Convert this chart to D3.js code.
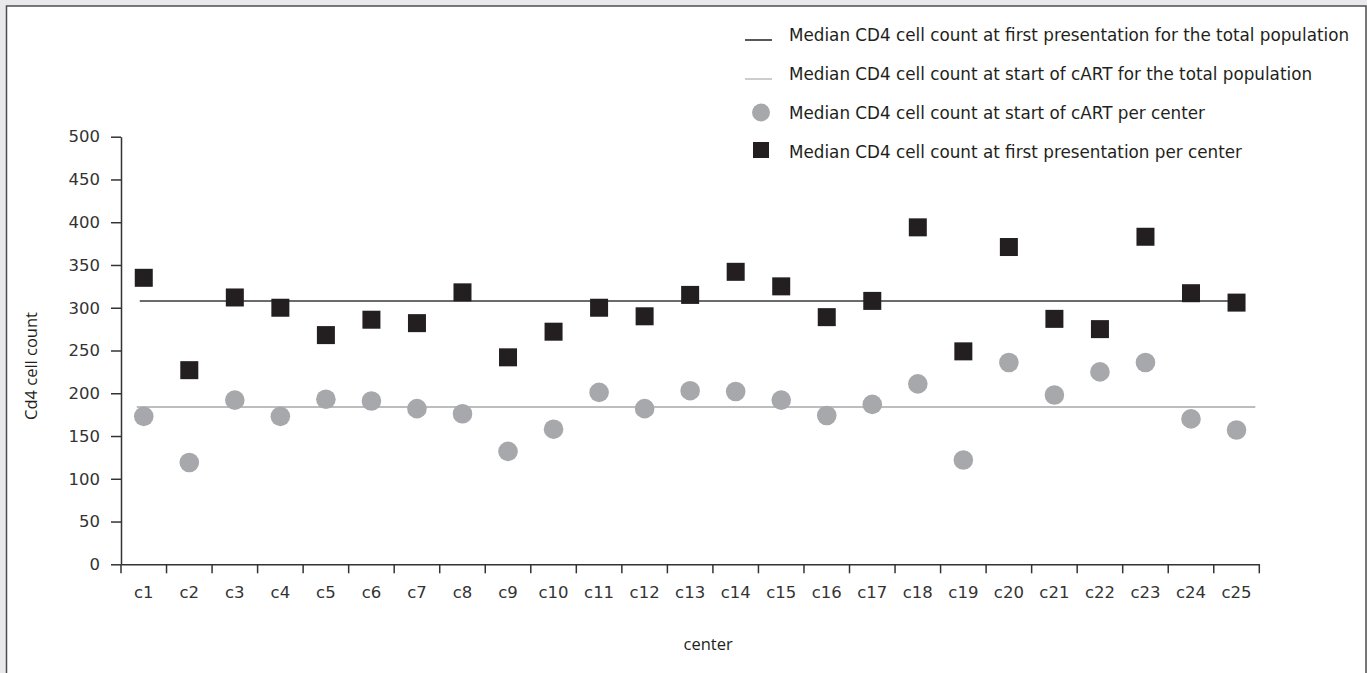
<!DOCTYPE html>
<html>
<head>
<meta charset="utf-8">
<script src="https://cdn.jsdelivr.net/npm/d3@7"></script>
<style>
  html, body { margin: 0; padding: 0; background: #e9e9eb; }
  svg { display: block; }
</style>
</head>
<body>
<svg id="chart" width="1367" height="673"></svg>
<script>
const categories = ["c1","c2","c3","c4","c5","c6","c7","c8","c9","c10","c11","c12","c13","c14","c15","c16","c17","c18","c19","c20","c21","c22","c23","c24","c25"];
const firstPresentation = [335, 227, 312, 300, 268, 286, 282, 318, 242, 272, 300, 290, 315, 342, 325, 289, 308, 394, 249, 371, 287, 275, 383, 317, 306];
const cartStart = [173, 119, 192, 173, 193, 191, 182, 176, 132, 158, 201, 182, 203, 202, 192, 174, 187, 211, 122, 236, 198, 225, 236, 170, 157];
const totalFirstPresentation = 308;
const totalCartStart = 184;
const yTicks = [0, 50, 100, 150, 200, 250, 300, 350, 400, 450, 500];
const legendLabels = [
  "Median CD4 cell count at first presentation for the total population",
  "Median CD4 cell count at start of cART for the total population",
  "Median CD4 cell count at start of cART per center",
  "Median CD4 cell count at first presentation per center"
];

const svg = d3.select("#chart");
const DARK = "#231f20", AXIS = "#333333", GREY_DOT = "#a7a8ab", GREY_LINE = "#bcbdbf";
const tickFont = "'DejaVu Sans', sans-serif";
const titleFont = "'Open Sans', sans-serif";

// frame
svg.append("rect").attr("x", 0).attr("y", 0).attr("width", 1367).attr("height", 673).attr("fill", "#e9e9eb");
svg.append("rect").attr("x", 6.5).attr("y", 6).attr("width", 1359.5).attr("height", 700)
  .attr("fill", "#ffffff").attr("stroke", "#4d4d4f").attr("stroke-width", 1.5);

const x = d3.scaleBand().domain(categories).range([121, 1259.3]).padding(0);
const y = d3.scaleLinear().domain([0, 500]).range([564.3, 136.7]);
const cx = c => x(c) + x.bandwidth() / 2;

// y axis
const yAxis = svg.append("g").attr("transform", "translate(121,0)")
  .call(d3.axisLeft(y).tickValues(yTicks).tickSize(10).tickSizeOuter(0).tickPadding(11));
yAxis.select(".domain").attr("stroke", AXIS).attr("stroke-width", 1.5);
yAxis.selectAll(".tick line").attr("stroke", AXIS).attr("stroke-width", 1.5);
yAxis.selectAll(".tick text").attr("font-family", tickFont).attr("font-size", 16.5).attr("fill", AXIS);

// x axis (labels centered in bands, ticks at band boundaries)
const xAxis = svg.append("g").attr("transform", `translate(0,${y(0)})`)
  .call(d3.axisBottom(x).tickSize(0).tickSizeOuter(0).tickPadding(22));
xAxis.select(".domain").attr("stroke", AXIS).attr("stroke-width", 1.5);
xAxis.selectAll(".tick text").attr("font-family", tickFont).attr("font-size", 16.5).attr("fill", AXIS);
const boundaries = categories.map(c => x(c)).concat([x.range()[1]]);
xAxis.selectAll(".bnd").data(boundaries).join("line").attr("class", "bnd")
  .attr("x1", d => d).attr("x2", d => d).attr("y1", 0).attr("y2", 9)
  .attr("stroke", AXIS).attr("stroke-width", 1.5);

// axis titles
svg.append("text").attr("transform", `translate(37,${366}) rotate(-90)`)
  .attr("text-anchor", "middle").attr("font-family", titleFont).attr("font-size", 16.5)
  .attr("fill", DARK).text("Cd4 cell count");
svg.append("text").attr("x", (x.range()[0] + x.range()[1]) / 2 + 18).attr("y", 650)
  .attr("text-anchor", "middle").attr("font-family", titleFont).attr("font-size", 16.5)
  .attr("fill", DARK).text("center");

// total reference lines
svg.append("line")
  .attr("x1", cx(categories[0]) - 7).attr("x2", x.range()[1] - 4)
  .attr("y1", y(totalCartStart)).attr("y2", y(totalCartStart))
  .attr("stroke", GREY_LINE).attr("stroke-width", 2);
svg.append("line")
  .attr("x1", cx(categories[0]) - 4).attr("x2", cx(categories[categories.length - 1]) + 4)
  .attr("y1", y(totalFirstPresentation)).attr("y2", y(totalFirstPresentation))
  .attr("stroke", "#3a3a3c").attr("stroke-width", 1.5);

// per-center points
svg.append("g").selectAll("circle").data(cartStart).join("circle")
  .attr("cx", (d, i) => cx(categories[i])).attr("cy", d => y(d)).attr("r", 9.8)
  .attr("fill", GREY_DOT);
const sq = 18;
svg.append("g").selectAll("rect").data(firstPresentation).join("rect")
  .attr("x", (d, i) => cx(categories[i]) - sq / 2).attr("y", d => y(d) - sq / 2)
  .attr("width", sq).attr("height", sq).attr("fill", DARK);

// legend
const lg = svg.append("g");
const baselines = [41, 80, 119, 158];
legendLabels.forEach((t, i) => {
  lg.append("text").attr("x", 789).attr("y", baselines[i])
    .attr("font-family", tickFont).attr("font-size", 16.8).attr("fill", DARK).text(t);
});
lg.append("line").attr("x1", 745).attr("x2", 772).attr("y1", baselines[0] - 1).attr("y2", baselines[0] - 1)
  .attr("stroke", DARK).attr("stroke-width", 1.5);
lg.append("line").attr("x1", 745).attr("x2", 772).attr("y1", baselines[1] - 1).attr("y2", baselines[1] - 1)
  .attr("stroke", GREY_LINE).attr("stroke-width", 1.5);
lg.append("circle").attr("cx", 761).attr("cy", baselines[2] - 6.5).attr("r", 9).attr("fill", GREY_DOT);
lg.append("rect").attr("x", 753).attr("y", baselines[3] - 16).attr("width", 16).attr("height", 16).attr("fill", DARK);
</script>
</body>
</html>
